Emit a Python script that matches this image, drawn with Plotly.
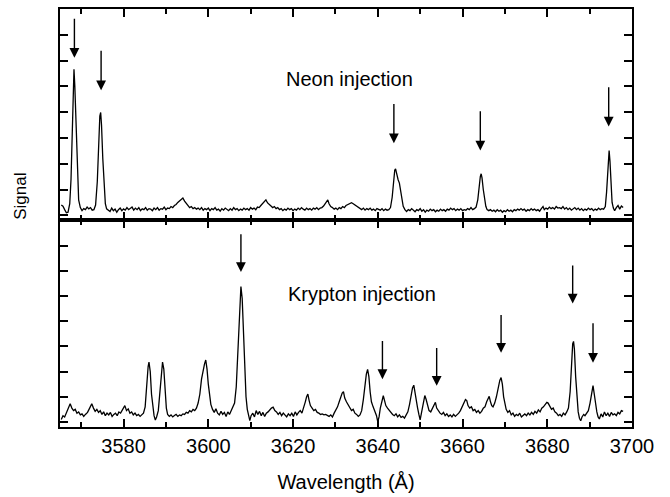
import plotly.graph_objects as go

# ---------------- data ----------------
# Neon injection spectrum (upper panel)
neon_wl = [
3565.3,3565.7,3566.1,3566.5,3566.9,3567.3,3567.6,3567.9,3568.1,3568.3,3568.5,3568.8,3569.1,3569.4,3569.8,
3570.2,3570.6,3571.0,3571.4,3571.8,3572.2,3572.6,3573.0,3573.4,3573.8,3574.1,3574.4,3574.6,3574.8,3575.1,
3575.4,3575.7,3576.0,3576.4,3576.8,3577.2,3577.6,3578.0,3578.4,3578.8,3579.2,3579.6,3580.0,3580.4,3580.8,
3581.2,3581.6,3582.0,3582.4,3582.8,3583.2,3583.6,3584.0,3584.4,3584.8,3585.2,3585.6,3586.0,3586.4,3586.8,
3587.2,3587.6,3588.0,3588.4,3588.8,3589.2,3589.6,3590.0,3590.4,3590.8,3591.2,3591.6,3592.0,3592.4,3592.8,
3593.2,3593.6,3594.0,3594.4,3594.8,3595.2,3595.6,3596.0,3596.4,3596.8,3597.2,3597.6,3598.0,3598.4,3598.8,
3599.2,3599.6,3600.0,3600.4,3600.8,3601.2,3601.6,3602.0,3602.4,3602.8,3603.2,3603.6,3604.0,3604.4,3604.8,
3605.2,3605.6,3606.0,3606.4,3606.8,3607.2,3607.6,3608.0,3608.4,3608.8,3609.2,3609.6,3610.0,3610.4,3610.8,
3611.2,3611.6,3612.0,3612.4,3612.8,3613.2,3613.6,3614.0,3614.4,3614.8,3615.2,3615.6,3616.0,3616.4,3616.8,
3617.2,3617.6,3618.0,3618.4,3618.8,3619.2,3619.6,3620.0,3620.4,3620.8,3621.2,3621.6,3622.0,3622.4,3622.8,
3623.2,3623.6,3624.0,3624.4,3624.8,3625.2,3625.6,3626.0,3626.4,3626.8,3627.2,3627.6,3628.0,3628.2,3628.5,
3628.9,3629.3,3629.7,3630.1,3630.5,3630.9,3631.3,3631.7,3632.1,3632.5,3632.9,3633.3,3633.8,3634.2,3634.6,
3635.0,3635.4,3635.8,3636.2,3636.6,3637.0,3637.4,3637.8,3638.2,3638.6,3639.0,3639.4,3639.8,3640.2,3640.6,
3641.0,3641.4,3641.8,3642.2,3642.6,3643.0,3643.4,3643.7,3644.0,3644.2,3644.5,3644.8,3645.1,3645.4,3645.7,
3646.0,3646.4,3646.8,3647.2,3647.6,3648.0,3648.4,3648.8,3649.2,3649.6,3650.0,3650.4,3650.8,3651.2,3651.6,
3652.0,3652.4,3652.8,3653.2,3653.6,3654.0,3654.4,3654.8,3655.2,3655.6,3656.0,3656.4,3656.8,3657.2,3657.6,
3658.0,3658.4,3658.8,3659.2,3659.6,3660.0,3660.4,3660.8,3661.2,3661.6,3662.0,3662.4,3662.8,3663.2,3663.6,
3663.9,3664.2,3664.4,3664.6,3664.9,3665.2,3665.5,3665.8,3666.2,3666.6,3667.0,3667.4,3667.8,3668.2,3668.6,
3669.0,3669.4,3669.8,3670.2,3670.6,3671.0,3671.4,3671.8,3672.2,3672.6,3673.0,3673.4,3673.8,3674.2,3674.6,
3675.0,3675.4,3675.8,3676.2,3676.6,3677.0,3677.4,3677.8,3678.2,3678.6,3679.0,3679.3,3679.7,3680.1,3680.5,
3680.9,3681.3,3681.7,3682.1,3682.5,3682.9,3683.3,3683.7,3684.1,3684.5,3684.9,3685.3,3685.7,3686.1,3686.5,
3686.9,3687.3,3687.7,3688.1,3688.5,3688.9,3689.3,3689.7,3690.1,3690.5,3690.9,3691.3,3691.7,3692.1,3692.5,
3692.9,3693.3,3693.7,3694.0,3694.3,3694.6,3694.8,3695.0,3695.3,3695.6,3695.9,3696.3,3696.7,3697.1,3697.5,
3697.9]
neon_signal = [
0.40,0.35,0.22,0.10,0.12,0.45,1.4,3.4,4.9,5.66,5.0,3.2,1.5,0.6,0.30,
0.18,0.26,0.22,0.32,0.25,0.30,0.20,0.22,0.40,1.3,2.8,3.85,3.99,3.5,2.2,
1.0,0.45,0.25,0.20,0.15,0.28,0.18,0.24,0.12,0.22,0.28,0.18,0.25,0.20,0.30,
0.22,0.26,0.32,0.20,0.28,0.22,0.30,0.18,0.25,0.22,0.30,0.20,0.26,0.24,0.18,
0.28,0.22,0.30,0.20,0.26,0.24,0.32,0.22,0.28,0.26,0.34,0.30,0.38,0.42,0.50,
0.55,0.62,0.67,0.55,0.45,0.38,0.30,0.34,0.26,0.30,0.24,0.28,0.22,0.30,0.20,
0.26,0.22,0.28,0.18,0.26,0.22,0.30,0.20,0.24,0.16,0.26,0.20,0.28,0.22,0.18,
0.26,0.20,0.30,0.22,0.26,0.18,0.24,0.20,0.28,0.22,0.26,0.20,0.30,0.24,0.28,
0.22,0.32,0.30,0.38,0.45,0.52,0.60,0.48,0.40,0.36,0.30,0.34,0.26,0.30,0.22,
0.26,0.18,0.24,0.20,0.28,0.22,0.26,0.18,0.24,0.20,0.28,0.22,0.30,0.24,0.20,
0.28,0.22,0.26,0.20,0.28,0.24,0.30,0.22,0.28,0.30,0.36,0.44,0.55,0.60,0.45,
0.34,0.30,0.24,0.28,0.22,0.30,0.26,0.34,0.30,0.38,0.42,0.46,0.49,0.45,0.40,
0.34,0.30,0.26,0.22,0.28,0.20,0.26,0.22,0.28,0.20,0.24,0.18,0.26,0.22,0.20,
0.26,0.18,0.24,0.20,0.22,0.30,0.7,1.4,1.75,1.80,1.55,1.38,1.25,0.9,0.55,
0.35,0.22,0.15,0.22,0.18,0.26,0.20,0.14,0.22,0.18,0.26,0.16,0.22,0.12,0.20,
0.16,0.24,0.18,0.22,0.14,0.20,0.16,0.24,0.18,0.22,0.16,0.24,0.20,0.28,0.22,
0.26,0.18,0.24,0.20,0.26,0.18,0.22,0.20,0.26,0.22,0.30,0.22,0.26,0.32,0.6,
1.1,1.5,1.61,1.45,1.0,0.6,0.35,0.22,0.18,0.22,0.16,0.20,0.14,0.22,0.16,
0.20,0.12,0.18,0.14,0.22,0.16,0.20,0.14,0.22,0.18,0.24,0.20,0.26,0.20,0.24,
0.16,0.22,0.18,0.26,0.20,0.24,0.18,0.22,0.16,0.26,0.34,0.22,0.28,0.24,0.32,
0.26,0.30,0.24,0.34,0.28,0.30,0.26,0.34,0.24,0.30,0.22,0.28,0.20,0.26,0.30,
0.22,0.28,0.20,0.26,0.18,0.24,0.20,0.28,0.22,0.26,0.18,0.24,0.20,0.28,0.22,
0.26,0.24,0.34,0.9,2.0,2.51,2.1,1.2,0.5,0.28,0.18,0.30,0.38,0.24,0.36,
0.30]

# Krypton injection spectrum (lower panel)
krypton_wl = [
3565.3,3565.7,3566.1,3566.5,3567.0,3567.4,3567.8,3568.2,3568.6,3569.0,3569.4,3569.8,3570.2,3570.6,3571.0,
3571.5,3572.0,3572.5,3572.9,3573.3,3573.7,3574.1,3574.5,3574.9,3575.3,3575.7,3576.1,3576.5,3576.9,3577.3,
3577.7,3578.1,3578.5,3578.9,3579.3,3579.8,3580.3,3580.7,3581.1,3581.5,3581.9,3582.3,3582.7,3583.1,3583.5,
3583.9,3584.3,3584.7,3585.1,3585.5,3585.8,3586.0,3586.3,3586.6,3586.9,3587.2,3587.5,3587.8,3588.2,3588.6,
3588.9,3589.2,3589.5,3589.8,3590.1,3590.4,3590.8,3591.2,3591.6,3592.0,3592.4,3592.8,3593.2,3593.6,3594.0,
3594.4,3594.8,3595.2,3595.6,3596.0,3596.4,3596.8,3597.2,3597.6,3598.0,3598.4,3598.8,3599.1,3599.4,3599.7,
3600.0,3600.3,3600.6,3601.0,3601.4,3601.8,3602.2,3602.6,3603.0,3603.4,3603.8,3604.2,3604.6,3605.0,3605.4,
3605.8,3606.2,3606.6,3607.0,3607.4,3607.7,3608.0,3608.3,3608.6,3608.9,3609.2,3609.5,3609.8,3610.1,3610.5,
3610.9,3611.3,3611.7,3612.1,3612.5,3612.9,3613.3,3613.7,3614.1,3614.5,3614.9,3615.3,3615.7,3616.1,3616.5,
3616.9,3617.3,3617.7,3618.1,3618.5,3618.9,3619.3,3619.7,3620.1,3620.5,3620.9,3621.3,3621.7,3622.1,3622.5,
3622.9,3623.2,3623.5,3623.8,3624.1,3624.5,3624.9,3625.3,3625.7,3626.1,3626.5,3626.9,3627.3,3627.7,3628.1,
3628.5,3628.9,3629.3,3629.7,3630.1,3630.5,3630.9,3631.3,3631.6,3631.9,3632.2,3632.6,3633.0,3633.4,3633.8,
3634.2,3634.6,3635.0,3635.4,3635.8,3636.2,3636.6,3637.0,3637.3,3637.6,3637.9,3638.2,3638.5,3638.9,3639.3,
3639.7,3640.0,3640.3,3640.6,3641.0,3641.3,3641.6,3641.9,3642.3,3642.7,3643.1,3643.5,3643.9,3644.3,3644.7,
3645.1,3645.5,3645.9,3646.3,3646.7,3647.1,3647.5,3647.9,3648.2,3648.5,3648.8,3649.1,3649.4,3649.7,3650.0,
3650.3,3650.7,3651.1,3651.4,3651.7,3652.1,3652.5,3652.9,3653.3,3653.6,3653.9,3654.3,3654.7,3655.1,3655.5,
3655.9,3656.3,3656.7,3657.1,3657.5,3657.9,3658.3,3658.7,3659.1,3659.5,3659.9,3660.3,3660.7,3661.0,3661.3,
3661.7,3662.1,3662.5,3662.9,3663.3,3663.7,3664.1,3664.5,3664.9,3665.3,3665.7,3666.0,3666.3,3666.6,3666.9,
3667.2,3667.6,3668.0,3668.4,3668.8,3669.1,3669.4,3669.7,3670.0,3670.3,3670.7,3671.1,3671.5,3671.9,3672.3,
3672.7,3673.1,3673.5,3673.9,3674.3,3674.7,3675.1,3675.5,3675.9,3676.3,3676.7,3677.1,3677.5,3677.9,3678.3,
3678.7,3679.1,3679.5,3679.9,3680.2,3680.6,3681.0,3681.4,3681.8,3682.2,3682.6,3683.0,3683.4,3683.8,3684.2,
3684.6,3685.0,3685.4,3685.7,3686.0,3686.2,3686.4,3686.7,3687.0,3687.3,3687.6,3687.9,3688.2,3688.6,3688.9,
3689.3,3689.7,3690.1,3690.5,3690.8,3691.1,3691.4,3691.7,3692.0,3692.3,3692.7,3693.1,3693.5,3693.9,3694.3,
3694.7,3695.1,3695.5,3695.9,3696.3,3696.7,3697.1,3697.5,3697.9]
krypton_signal = [
0.10,0.25,0.20,0.35,0.55,0.72,0.55,0.45,0.50,0.35,0.40,0.28,0.32,0.22,0.30,
0.38,0.55,0.72,0.55,0.42,0.50,0.38,0.45,0.30,0.40,0.25,0.35,0.28,0.38,0.22,
0.30,0.35,0.25,0.40,0.35,0.50,0.65,0.45,0.52,0.35,0.40,0.28,0.35,0.25,0.30,
0.22,0.28,0.35,0.6,1.6,2.2,2.38,2.0,1.1,0.5,0.25,0.08,0.20,0.45,1.2,
2.0,2.38,2.1,1.2,0.55,0.30,0.22,0.28,0.20,0.26,0.30,0.22,0.28,0.25,0.32,
0.30,0.38,0.35,0.45,0.40,0.50,0.45,0.55,0.75,1.1,1.7,2.1,2.3,2.46,2.1,
1.5,0.95,0.7,0.5,0.38,0.52,0.35,0.28,0.42,0.30,0.38,0.22,0.40,0.30,0.45,
0.55,0.75,1.4,2.8,4.6,5.38,4.9,3.4,2.0,1.0,0.5,0.2,0.05,0.25,0.35,
0.20,0.45,0.30,0.42,0.25,0.38,0.22,0.35,0.40,0.50,0.55,0.59,0.45,0.40,0.30,
0.38,0.25,0.35,0.28,0.20,0.32,0.25,0.35,0.22,0.40,0.28,0.38,0.45,0.35,0.55,
0.80,1.0,1.11,0.85,0.65,0.55,0.45,0.50,0.38,0.35,0.30,0.32,0.28,0.30,0.26,
0.22,0.28,0.20,0.35,0.45,0.60,0.80,1.0,1.15,1.2,0.95,0.80,0.68,0.60,0.45,
0.50,0.35,0.30,0.22,0.28,0.45,0.9,1.5,1.9,2.09,1.8,1.2,0.8,0.6,0.45,
0.25,0.0,0.2,0.55,0.9,1.04,0.85,0.65,0.55,0.45,0.38,0.30,0.25,0.32,0.20,
0.28,0.18,0.22,0.15,0.25,0.40,0.7,1.1,1.35,1.46,1.1,0.75,0.55,0.30,0.08,
0.35,0.75,1.05,0.9,0.65,0.45,0.40,0.55,0.70,0.78,0.55,0.42,0.35,0.30,0.38,
0.25,0.32,0.22,0.28,0.20,0.30,0.22,0.28,0.35,0.45,0.60,0.80,0.89,0.85,0.65,
0.55,0.60,0.45,0.50,0.38,0.45,0.35,0.42,0.55,0.60,0.80,0.95,1.02,0.80,0.65,
0.60,0.75,1.0,1.4,1.65,1.76,1.5,1.0,0.7,0.5,0.38,0.45,0.28,0.35,0.22,
0.30,0.25,0.35,0.20,0.28,0.32,0.25,0.35,0.28,0.38,0.30,0.42,0.35,0.48,0.40,
0.55,0.60,0.70,0.78,0.75,0.60,0.50,0.55,0.40,0.35,0.25,0.30,0.22,0.35,0.28,
0.40,0.55,1.2,2.3,3.1,3.2,2.9,1.8,0.9,0.4,0.15,0.05,0.20,0.30,0.25,
0.35,0.45,0.75,1.2,1.44,1.1,0.7,0.4,0.2,0.12,0.32,0.20,0.40,0.25,0.35,
0.22,0.38,0.28,0.32,0.25,0.38,0.32,0.45,0.42]

# Marked lines: arrow position, arrow tip and tail heights
neon_arrow_wl = [3568.4, 3574.7, 3643.8, 3664.2, 3694.5]
neon_arrow_tip = [6.11, 4.85, 2.79, 2.51, 3.44]
neon_arrow_tail = [7.68, 6.44, 4.37, 4.09, 5.02]

krypton_arrow_wl = [3607.7, 3641.1, 3653.9, 3669.1, 3686.0, 3690.8]
krypton_arrow_tip = [5.95, 1.70, 1.44, 2.75, 4.70, 2.35]
krypton_arrow_tail = [7.51, 3.27, 3.00, 4.31, 6.27, 3.98]

x_tick_vals = [3580, 3600, 3620, 3640, 3660, 3680, 3700]
x_tick_text = ["3580", "3600", "3620", "3640", "3660", "3680", "3700"]
x_minor_vals = [3570, 3590, 3610, 3630, 3650, 3670, 3690]
y_tick_vals = [0, 1, 2, 3, 4, 5, 6, 7, 8]

# ---------------- figure ----------------
FONT = "Liberation Sans, Arial, Helvetica, sans-serif"
fig = go.Figure()

fig.add_trace(go.Scatter(x=neon_wl, y=neon_signal, mode="lines",
                         line=dict(color="black", width=1.3),
                         xaxis="x2", yaxis="y2", showlegend=False, hoverinfo="skip"))
fig.add_trace(go.Scatter(x=krypton_wl, y=krypton_signal, mode="lines",
                         line=dict(color="black", width=1.3),
                         xaxis="x", yaxis="y", showlegend=False, hoverinfo="skip"))

split = (428 - 220) / 421.0

common_x = dict(range=[3565, 3700], showline=True, linecolor="black", linewidth=2,
                mirror="ticks", ticks="inside", ticklen=8, tickwidth=1.5, tickcolor="black",
                tickvals=x_tick_vals, ticktext=x_tick_text, showgrid=False, zeroline=False,
                minor=dict(tickvals=x_minor_vals,
                           ticks="inside", ticklen=5, tickwidth=1.5, tickcolor="black"))
common_y = dict(range=[-0.2, 8], showline=True, linecolor="black", linewidth=2,
                mirror="ticks", ticks="inside", ticklen=8, tickwidth=1.5, tickcolor="black",
                tickvals=y_tick_vals, showticklabels=False, showgrid=False, zeroline=False,
                fixedrange=True)

fig.update_layout(
    width=670, height=497,
    margin=dict(l=60, r=38, t=7, b=69),
    paper_bgcolor="white", plot_bgcolor="white",
    font=dict(family=FONT, color="black", size=20),
    xaxis=dict(common_x, anchor="y", domain=[0, 1],
               tickfont=dict(size=20, family=FONT, color="black"),
               title=dict(text="Wavelength (Å)", font=dict(size=20, family=FONT, color="black"),
                          standoff=19)),
    xaxis2=dict(common_x, anchor="y2", matches="x", showticklabels=False),
    yaxis=dict(common_y, domain=[0, split], anchor="x"),
    yaxis2=dict(common_y, domain=[split, 1], anchor="x2"),
)

annotations = []
for xv, tip, tail in zip(neon_arrow_wl, neon_arrow_tip, neon_arrow_tail):
    annotations.append(dict(x=xv, y=tip, ax=xv, ay=tail, xref="x2", yref="y2",
                            axref="x2", ayref="y2", text="", showarrow=True,
                            arrowhead=2, arrowsize=1.4, arrowwidth=1.4, arrowcolor="black",
                            standoff=0))
for xv, tip, tail in zip(krypton_arrow_wl, krypton_arrow_tip, krypton_arrow_tail):
    annotations.append(dict(x=xv, y=tip, ax=xv, ay=tail, xref="x", yref="y",
                            axref="x", ayref="y", text="", showarrow=True,
                            arrowhead=2, arrowsize=1.4, arrowwidth=1.4, arrowcolor="black",
                            standoff=0))

annotations.append(dict(x=3633.4, y=5.3, xref="x2", yref="y2", text="Neon injection",
                        showarrow=False, font=dict(size=20, family=FONT, color="black"),
                        xanchor="center", yanchor="middle"))
annotations.append(dict(x=3636.2, y=5.1, xref="x", yref="y", text="Krypton injection",
                        showarrow=False, font=dict(size=20, family=FONT, color="black"),
                        xanchor="center", yanchor="middle"))
annotations.append(dict(x=-0.068, y=0.551, xref="paper", yref="paper", text="Signal",
                        textangle=-90, showarrow=False,
                        font=dict(size=17, family=FONT, color="black"),
                        xanchor="center", yanchor="middle"))
fig.update_layout(annotations=annotations)

fig.write_html("out.html")
